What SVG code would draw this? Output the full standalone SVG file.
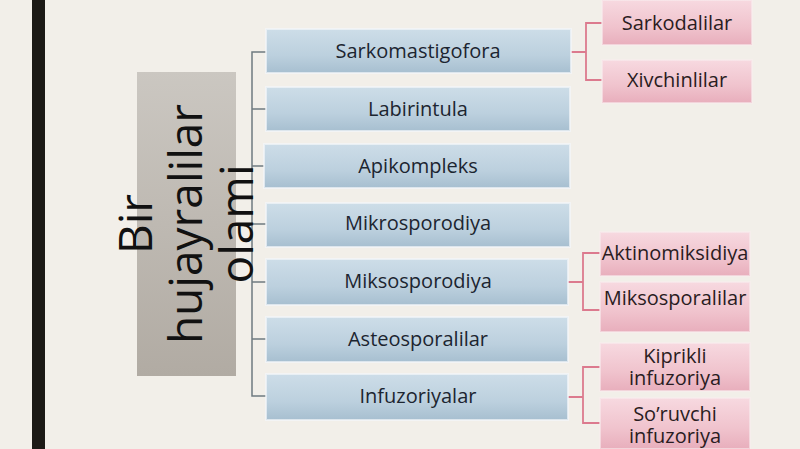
<svg xmlns="http://www.w3.org/2000/svg" width="800" height="449" viewBox="0 0 800 449">
<defs>
<linearGradient id="gBlue" x1="0" y1="0" x2="0" y2="1">
<stop offset="0" stop-color="#cddde8"/>
<stop offset="0.6" stop-color="#bcd0de"/>
<stop offset="1" stop-color="#a7bfd0"/>
</linearGradient>
<linearGradient id="gPink" x1="0" y1="0" x2="0" y2="1">
<stop offset="0" stop-color="#f7d9e0"/>
<stop offset="0.6" stop-color="#f0c3cd"/>
<stop offset="1" stop-color="#e8aebc"/>
</linearGradient>
<linearGradient id="gGrey" x1="0" y1="0" x2="0" y2="1">
<stop offset="0" stop-color="#cbc7c1"/>
<stop offset="1" stop-color="#b1aba3"/>
</linearGradient>
</defs>
<style>
.blue{fill:url(#gBlue);stroke:#f4f7f9;stroke-width:2;stroke-opacity:0.7}
.pink{fill:url(#gPink);stroke:#f9ecef;stroke-width:2;stroke-opacity:0.6}
.t{font-family:"Open Sans","Noto Sans","Liberation Sans",sans-serif;font-size:20px;text-anchor:middle;fill:#1c2530}
.tp{font-family:"Open Sans","Noto Sans","Liberation Sans",sans-serif;font-size:20px;text-anchor:middle;fill:#2a1c22}
.big{font-family:"Open Sans","Noto Sans","Liberation Sans",sans-serif;font-size:46px;text-anchor:middle;fill:#111111}
.cg{fill:none;stroke:#6f7b80;stroke-width:1.5}
.cp{fill:none;stroke:#dc7a8e;stroke-width:1.8}
</style>
<rect x="0" y="0" width="800" height="449" fill="#f2efe9"/>
<rect x="32" y="0" width="13" height="449" fill="#1c1a16"/>

<g id="connectors">
<path class="cg" d="M267 52H252V396H267M252 109H267M252 166H267M252 224H267M252 282H267M252 339H267"/>
<path class="cp" d="M571 52H586M602 23H586V80H602"/>
<path class="cp" d="M568 282H583M600 253H583V310H600"/>
<path class="cp" d="M568 397H583M600 367H583V423H600"/>
</g>

<g id="root">
<rect x="137" y="72" width="99" height="304" fill="url(#gGrey)"/>
<text class="big" transform="translate(187,224) rotate(-90)"><tspan x="0" y="-35">Bir</tspan><tspan x="0" y="15">hujayralilar</tspan><tspan x="0" y="66">olami</tspan></text>
</g>

<g id="n1"><rect class="blue" x="266" y="29" width="305" height="44"/><text class="t" x="418" y="58">Sarkomastigofora</text></g>
<g id="n2"><rect class="blue" x="266" y="87" width="304" height="44"/><text class="t" x="418" y="116">Labirintula</text></g>
<g id="n3"><rect class="blue" x="264" y="144" width="306" height="44"/><text class="t" x="418" y="173">Apikompleks</text></g>
<g id="n4"><rect class="blue" x="266" y="203" width="304" height="44"/><text class="t" x="418" y="230">Mikrosporodiya</text></g>
<g id="n5"><rect class="blue" x="266" y="259" width="302" height="46"/><text class="t" x="418" y="288">Miksosporodiya</text></g>
<g id="n6"><rect class="blue" x="266" y="317" width="302" height="45"/><text class="t" x="418" y="346">Asteosporalilar</text></g>
<g id="n7"><rect class="blue" x="266" y="374" width="302" height="46"/><text class="t" x="418" y="403">Infuzoriyalar</text></g>

<g id="p1"><rect class="pink" x="602" y="0" width="150" height="45"/><text class="tp" x="677" y="30">Sarkodalilar</text></g>
<g id="p2"><rect class="pink" x="602" y="60" width="150" height="43"/><text class="tp" x="677" y="87">Xivchinlilar</text></g>
<g id="p3"><rect class="pink" x="600" y="232" width="150" height="44"/><text class="tp" x="675" y="260">Aktinomiksidiya</text></g>
<g id="p4"><rect class="pink" x="600" y="282" width="150" height="50"/><text class="tp" x="675" y="305">Miksosporalilar</text></g>
<g id="p5"><rect class="pink" x="600" y="343" width="150" height="48"/><text class="tp" x="675" y="363">Kiprikli</text><text class="tp" x="675" y="385">infuzoriya</text></g>
<g id="p6"><rect class="pink" x="600" y="398" width="150" height="51"/><text class="tp" x="675" y="421">So’ruvchi</text><text class="tp" x="675" y="443">infuzoriya</text></g>
</svg>
